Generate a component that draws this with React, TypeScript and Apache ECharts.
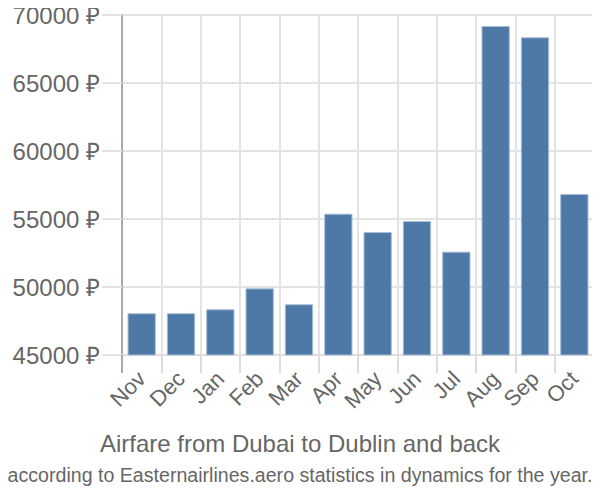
import React, { useEffect, useRef } from "react";
import * as echarts from "echarts";

const categories = ["Nov", "Dec", "Jan", "Feb", "Mar", "Apr", "May", "Jun", "Jul", "Aug", "Sep", "Oct"];
const prices = [48070, 48070, 48360, 49900, 48730, 55390, 54040, 54850, 52600, 69190, 68360, 56840];
const titleText = "Airfare from Dubai to Dublin and back";
const subtitleText = "according to Easternairlines.aero statistics in dynamics for the year.";

export default function App() {
  const ref = useRef<HTMLDivElement>(null);
  useEffect(() => {
    const chart = echarts.init(ref.current!, null, { renderer: "svg" });
    const font = "Liberation Sans";
    chart.setOption({
      animation: false,
      textStyle: { fontFamily: font },
      title: {
        text: titleText,
        subtext: subtitleText,
        left: "center",
        top: 431,
        itemGap: 10,
        padding: 0,
        textStyle: { fontFamily: font, fontSize: 24, fontWeight: "normal", color: "#666" },
        subtextStyle: { fontFamily: font, fontSize: 19.6, color: "#666" },
      },
      grid: { left: 122, right: 6, top: 15, bottom: 145, containLabel: false },
      graphic: [
        { type: "line", shape: { x1: 122, y1: 355, x2: 122, y2: 373 }, style: { stroke: "#aaa", lineWidth: 2 }, z: 10 },
      ],
      xAxis: {
        type: "category",
        data: categories,
        axisLine: { show: true, lineStyle: { color: "#ddd", width: 2 } },
        axisTick: { show: true, length: 18, alignWithLabel: false, lineStyle: { color: "#ddd", width: 2 } },
        splitLine: { show: true, lineStyle: { color: "#e3e3e3", width: 2 } },
        axisLabel: {
          rotate: 45,
          fontSize: 22,
          color: "#666",
          margin: 20,
          interval: 0,
          fontFamily: font,
        },
      },
      yAxis: {
        type: "value",
        min: 45000,
        max: 70000,
        interval: 5000,
        axisLine: { show: true, lineStyle: { color: "#aaa", width: 2 } },
        axisTick: { show: true, length: 20, lineStyle: { color: "#e3e3e3", width: 2 } },
        splitLine: { show: true, lineStyle: { color: "#e3e3e3", width: 2 } },
        axisLabel: { fontSize: 24, color: "#666", margin: 22, fontFamily: font, formatter: (v: number) => v + " ₽" },
      },
      series: [
        {
          type: "bar",
          data: prices,
          barCategoryGap: "28%",
          itemStyle: { color: "#4e79a7", borderColor: "#a8bdd6", borderWidth: 1 },
        },
      ],
    });
    return () => chart.dispose();
  }, []);
  return <div ref={ref} style={{ width: 600, height: 500, margin: -8 }} />;
}
